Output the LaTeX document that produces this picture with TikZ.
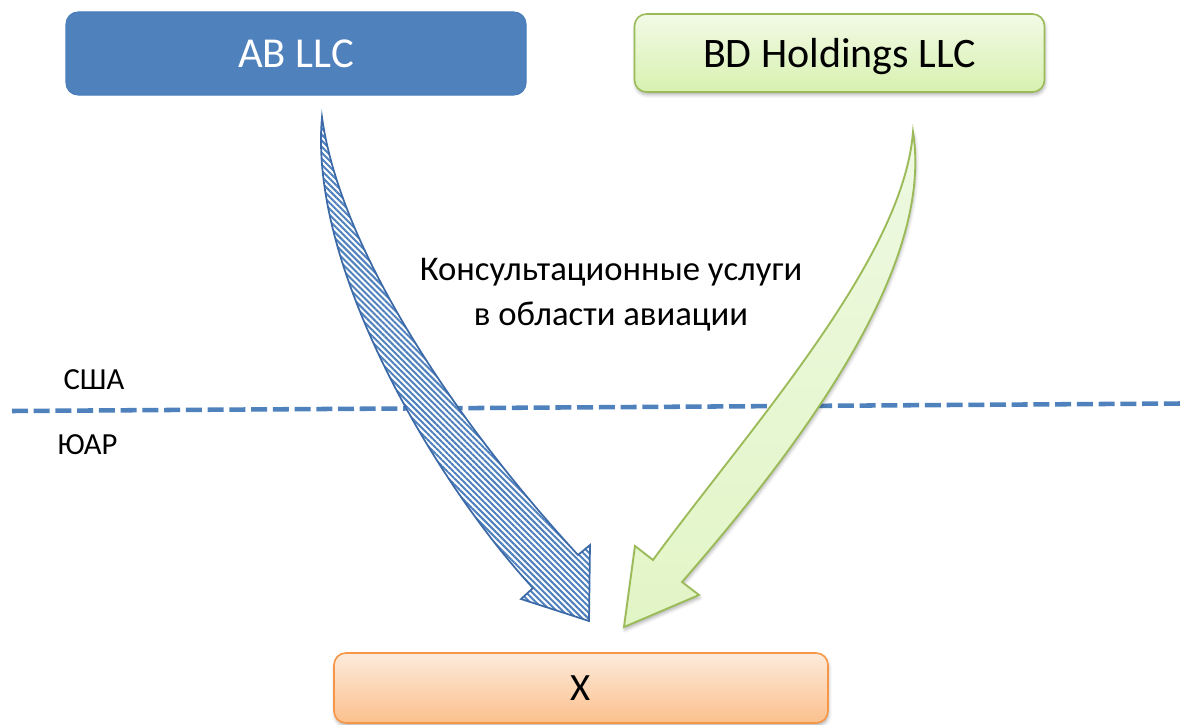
\documentclass[tikz,border=0pt]{standalone}
\usepackage{fontspec}
\setmainfont{Carlito}
\usetikzlibrary{patterns.meta,shadows.blur}
\definecolor{abblue}{HTML}{4F81BD}
\definecolor{abedge}{HTML}{4A7EBB}
\definecolor{arrblue}{HTML}{3C6AA8}
\definecolor{grnedge}{HTML}{9BBB59}
\definecolor{grntop}{HTML}{F2FAE6}
\definecolor{grnbot}{HTML}{D7F1AF}
\definecolor{grnarrowtop}{HTML}{E2F5C6}
\definecolor{grnarrowbot}{HTML}{EEF9E2}
\definecolor{orgedge}{HTML}{F79646}
\definecolor{orgtop}{HTML}{FDEBDC}
\definecolor{orgbot}{HTML}{FBC08C}
\begin{document}
\begin{tikzpicture}[x=0.75pt,y=-0.75pt,
  softshadow/.style={blur shadow={shadow xshift=0.6pt,shadow yshift=-2.2pt,shadow blur radius=2.5pt,shadow opacity=30}},
  abbox/.style={fill=abblue,draw=abedge,line width=0.8pt,rounded corners=9pt,
    minimum width=345pt,minimum height=62.25pt,inner sep=0pt,text=white,
    font=\fontsize{32}{38}\selectfont},
  bdbox/.style={top color=grntop,bottom color=grnbot,draw=grnedge,line width=1.2pt,rounded corners=9pt,
    minimum width=307.5pt,minimum height=58.5pt,inner sep=0pt,text depth=0pt,
    font=\fontsize{31.5}{38}\selectfont,softshadow},
  xbox/.style={top color=orgtop,bottom color=orgbot,draw=orgedge,line width=1.2pt,rounded corners=9pt,
    minimum width=370.5pt,minimum height=52.5pt,inner sep=0pt,
    font=\fontsize{29}{34}\selectfont,softshadow},
  lbl/.style={align=center,inner sep=0pt,font=\fontsize{26}{33.75}\selectfont},
  country/.style={inner sep=0pt,font=\fontsize{23}{27}\selectfont},
  border/.style={draw=abblue,line width=3.4pt,dash pattern=on 12pt off 4.3pt},
  bluearrow/.style={draw=arrblue,line width=1.3pt,line join=miter,
    preaction={fill=white},
    pattern={Lines[angle=-45,distance=3.2pt,line width=1.5pt]},pattern color=abblue},
  greenarrow/.style={draw=grnedge,line width=1.4pt,line join=miter,
    top color=grnarrowbot,bottom color=grnarrowtop,softshadow}
]
\useasboundingbox (0,0) rectangle (1180,724);

% border line between countries
\coordinate (bl) at (12,411);
\coordinate (br) at (1180,403.5);
\draw[border] (bl) -- (br);
\node[country] (usa) at (94,380) {США};
\node[country] (rsa) at (87.5,445) {ЮАР};

% boxes
\node[abbox] (ab) at (296,53.5) {AB LLC};
\node[bdbox] (bd) at (839.5,53) {BD Holdings LLC};
\node[xbox] (x) at (581,688) {X};

% label
\node[lbl] (svc) at (611,295) {Консультационные услуги\\в области авиации};

% curved block arrows
\coordinate (bt) at (322,117);
\draw[bluearrow] (bt) .. controls (340,250) and (458,425) .. (578,555)
  -- (590,545) -- (589,621) -- (521,599) -- (533,588)
  .. controls (440,488) and (308,270) .. (bt) -- cycle;

\coordinate (gt) at (913,132);
\draw[greenarrow] (gt) .. controls (903,260) and (748,430) .. (653,560)
  -- (635,546) -- (624,627) -- (699,595) -- (682,582)
  .. controls (795,452) and (935,270) .. (gt) -- cycle;
\end{tikzpicture}
\end{document}
